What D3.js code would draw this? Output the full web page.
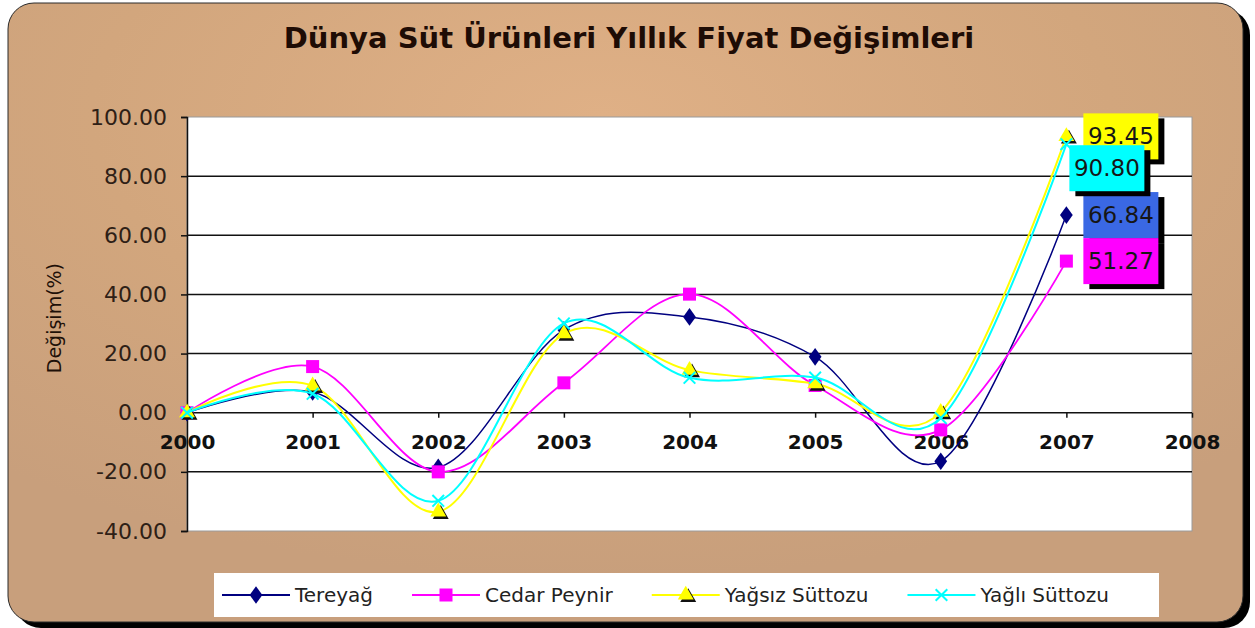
<!DOCTYPE html>
<html>
<head>
<meta charset="utf-8">
<script src="https://cdn.jsdelivr.net/npm/d3@7"></script>
<style>
  html, body { margin: 0; padding: 0; background: #fff; }
  svg { display: block; }
</style>
</head>
<body>
<svg id="chart" width="1255" height="628"></svg>
<script>
var years = [2000, 2001, 2002, 2003, 2004, 2005, 2006, 2007];
var tereyag = [0, 7.0, -18.5, 28.0, 32.4, 18.9, -16.4, 66.84];
var cedarPeynir = [0, 15.6, -20.0, 10.1, 40.1, 9.2, -5.8, 51.27];
var yagsizSuttozu = [0, 9.1, -33.5, 26.7, 14.4, 9.8, 0.2, 93.45];
var yagliSuttozu = [0, 6.4, -29.8, 30.2, 11.8, 11.9, -1.8, 90.80];
var seriesNames = ["Tereyağ", "Cedar Peynir", "Yağsız Süttozu", "Yağlı Süttozu"];
var yTicks = [-40, -20, 0, 20, 40, 60, 80, 100];
var xTicks = [2000, 2001, 2002, 2003, 2004, 2005, 2006, 2007, 2008];

var svg = d3.select("#chart");
var W = 1255, H = 628;
var margin = {top: 117, right: 63, bottom: 97, left: 187};
var fontFam = "'DejaVu Sans', Verdana, sans-serif";
var fmt2 = function(d) { return d.toFixed(2); };

var defs = svg.append("defs");
var grad = defs.append("radialGradient")
    .attr("id", "bg")
    .attr("cx", "48%").attr("cy", "18%").attr("r", "75%");
grad.append("stop").attr("offset", "0%").attr("stop-color", "#dfb086");
grad.append("stop").attr("offset", "55%").attr("stop-color", "#d2a67d");
grad.append("stop").attr("offset", "100%").attr("stop-color", "#c89f7c");

// frame with black drop shadow
svg.append("rect")
    .attr("x", 15).attr("y", 9)
    .attr("width", 1235).attr("height", 619)
    .attr("rx", 26).attr("fill", "#000");
svg.append("rect")
    .attr("x", 8).attr("y", 3)
    .attr("width", 1235).attr("height", 619)
    .attr("rx", 26)
    .attr("fill", "url(#bg)")
    .attr("stroke", "#2a2a2a").attr("stroke-width", 1);

svg.append("text")
    .attr("x", 629).attr("y", 48)
    .attr("text-anchor", "middle")
    .attr("font-family", fontFam)
    .attr("font-weight", "bold")
    .attr("font-size", 29)
    .attr("fill", "#1e0c05")
    .text("Dünya Süt Ürünleri Yıllık Fiyat Değişimleri");

var x = d3.scaleLinear().domain([2000, 2008]).range([margin.left, W - margin.right]);
var y = d3.scaleLinear().domain([-40, 100]).range([H - margin.bottom, margin.top]);

// plot area
svg.append("rect")
    .attr("x", x(2000)).attr("y", y(100))
    .attr("width", x(2008) - x(2000))
    .attr("height", y(-40) - y(100))
    .attr("fill", "#fff")
    .attr("stroke", "#9a9a9a").attr("stroke-width", 1);

svg.append("g")
    .selectAll("line")
    .data(yTicks.filter(function(d) { return d > -40 && d < 100; }))
    .enter().append("line")
    .attr("x1", x(2000)).attr("x2", x(2008))
    .attr("y1", function(d) { return y(d); })
    .attr("y2", function(d) { return y(d); })
    .attr("stroke", "#111").attr("stroke-width", 1.5);

var yAxis = d3.axisLeft(y)
    .tickValues(yTicks)
    .tickFormat(fmt2)
    .tickSize(6)
    .tickPadding(14);

var gy = svg.append("g")
    .attr("transform", "translate(" + x(2000) + ",0)")
    .call(yAxis);
gy.select(".domain").attr("stroke", "#111").attr("stroke-width", 1.5);
gy.selectAll(".tick line").attr("stroke", "#111").attr("stroke-width", 1.5);
gy.selectAll("text")
    .attr("font-family", fontFam)
    .attr("font-size", 22)
    .attr("fill", "#2e2016");

var xAxis = d3.axisBottom(x)
    .tickValues(xTicks)
    .tickFormat(d3.format("d"))
    .tickSize(5)
    .tickPadding(17);

var gx = svg.append("g")
    .attr("transform", "translate(0," + y(0) + ")")
    .call(xAxis);
gx.select(".domain").remove();
gx.selectAll(".tick line").attr("stroke", "#111").attr("stroke-width", 1.5);
gx.selectAll("text")
    .attr("font-family", fontFam)
    .attr("font-size", 20)
    .attr("font-weight", "bold")
    .attr("fill", "#111");

svg.append("text")
    .attr("transform", "translate(61," + y(32) + ") rotate(-90)")
    .attr("text-anchor", "middle")
    .attr("font-family", fontFam)
    .attr("font-size", 19)
    .attr("fill", "#1e1008")
    .text("Değişim(%)");

var series = [
  {name: seriesNames[0], values: tereyag, color: "#000080", width: 1.5, marker: "diamond"},
  {name: seriesNames[1], values: cedarPeynir, color: "#ff00ff", width: 1.8, marker: "square"},
  {name: seriesNames[2], values: yagsizSuttozu, color: "#ffff00", width: 2, marker: "triangle"},
  {name: seriesNames[3], values: yagliSuttozu, color: "#00ffff", width: 2, marker: "cross"}
];

var line = d3.line()
    .x(function(d, i) { return x(years[i]); })
    .y(function(d) { return y(d); })
    .curve(d3.curveCatmullRom.alpha(0));

function drawMarker(g, type, color, cx, cy) {
  if (type == "diamond") {
    g.append("path")
      .attr("d", d3.symbol().type(d3.symbolDiamond).size(90)())
      .attr("transform", "translate(" + cx + "," + cy + ") scale(1.25,1)")
      .attr("fill", color);
  } else if (type == "square") {
    g.append("rect")
      .attr("x", cx - 6.5).attr("y", cy - 6.5)
      .attr("width", 13).attr("height", 13)
      .attr("fill", color);
  } else if (type == "triangle") {
    var tri = d3.symbol().type(d3.symbolTriangle).size(110)();
    g.append("path").attr("d", tri)
      .attr("transform", "translate(" + (cx + 2.5) + "," + (cy + 2.5) + ")")
      .attr("fill", "#111");
    g.append("path").attr("d", tri)
      .attr("transform", "translate(" + cx + "," + cy + ")")
      .attr("fill", color);
  } else {
    g.append("path")
      .attr("d", d3.symbol().type(d3.symbolX).size(90)())
      .attr("transform", "translate(" + cx + "," + cy + ")")
      .attr("fill", "none")
      .attr("stroke", color).attr("stroke-width", 2);
  }
}

series.forEach(function(s) {
  var g = svg.append("g");
  g.append("path")
    .attr("d", line(s.values))
    .attr("fill", "none")
    .attr("stroke", s.color)
    .attr("stroke-width", s.width);
  s.values.forEach(function(v, i) {
    drawMarker(g, s.marker, s.color, x(years[i]), y(v));
  });
});

// value labels for 2007, drawn in Excel's stacking order
var labelOrder = [2, 0, 1, 3];
var labelColors = ["#3a68e4", "#ff00ff", "#ffff00", "#00ffff"];
var labelShift = [[0, 0], [0, 0], [0, 0], [-14, 24]];
var last = years.length - 1;
labelOrder.forEach(function(k) {
  var s = series[k];
  var v = s.values[last];
  var bx = x(years[last]) + 17 + labelShift[k][0];
  var by = y(v) - 23 + labelShift[k][1];
  var lg = svg.append("g");
  lg.append("rect")
    .attr("x", bx + 6).attr("y", by + 5)
    .attr("width", 75).attr("height", 46)
    .attr("fill", "#000");
  lg.append("rect")
    .attr("x", bx).attr("y", by)
    .attr("width", 75).attr("height", 46)
    .attr("fill", labelColors[k]);
  lg.append("text")
    .attr("x", bx + 37.5).attr("y", by + 31)
    .attr("text-anchor", "middle")
    .attr("font-family", fontFam)
    .attr("font-size", 23)
    .attr("fill", "#161616")
    .text(fmt2(v));
});

// legend
svg.append("rect")
    .attr("x", 214).attr("y", 573)
    .attr("width", 945).attr("height", 44)
    .attr("fill", "#fff");

var lx = 222;
series.forEach(function(s) {
  var g = svg.append("g");
  g.append("line")
    .attr("x1", lx).attr("x2", lx + 68)
    .attr("y1", 595).attr("y2", 595)
    .attr("stroke", s.color).attr("stroke-width", 2);
  drawMarker(g, s.marker, s.color, lx + 34, 595);
  var t = g.append("text")
    .attr("x", lx + 73).attr("y", 602)
    .attr("font-family", fontFam)
    .attr("font-size", 20)
    .attr("fill", "#222")
    .text(s.name);
  lx += 73 + t.node().getComputedTextLength() + 39;
});
</script>
</body>
</html>
